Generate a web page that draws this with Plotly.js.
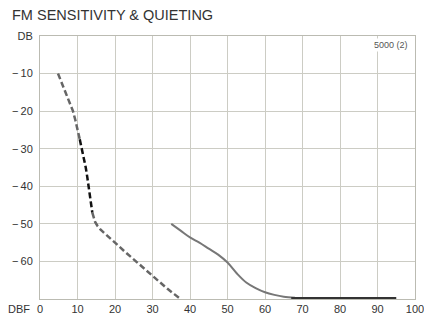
<!DOCTYPE html>
<html>
<head>
<meta charset="utf-8">
<script src="https://cdn.plot.ly/plotly-3.0.1.min.js"></script>
<style>html,body{margin:0;padding:0;background:#fff;}#chart{width:424px;height:314px;}</style>
</head>
<body>
<div id="chart"></div>
<script>
// Sensitivity (dashed) curve, split by tone
const sensUpperX = [4.8, 5.8, 6.8, 7.8, 8.8, 9.45, 10.0, 10.6];
const sensUpperY = [-10, -12.5, -15, -17.5, -20, -22.5, -25, -27.5];
const sensMidX = [10.6, 11.2, 11.7, 12.2, 12.6, 13.0, 13.3, 13.6, 13.95];
const sensMidY = [-27.5, -30, -32.5, -35, -37.5, -40, -42.5, -45, -47];
const sensLowerX = [13.95, 14.3, 14.7, 15.3, 16.1, 17.2, 18.4, 20, 22.5, 25, 27.5, 30, 32, 34, 35.8, 37.5];
const sensLowerY = [-47, -48.5, -49.5, -50.5, -51.5, -52.5, -53.5, -55, -57.3, -59.5, -61.8, -64, -65.7, -67.3, -68.7, -70];
// Quieting (solid) curve
const quietX = [35, 37.5, 40, 42.5, 45, 47.5, 50, 52.5, 55, 57.5, 60, 62.5, 65, 68];
const quietY = [-50, -51.8, -53.6, -55, -56.6, -58.2, -60.3, -63.2, -65.6, -67.1, -68.2, -68.9, -69.4, -69.7];
const floorX = [67, 80, 95];
const floorY = [-69.8, -69.8, -69.8];

const xTicks = [0, 10, 20, 30, 40, 50, 60, 70, 80, 90, 100];
const xTickText = ['0', '10', '20', '30', '40', '50', '60', '70', '80', '90', '100'];
const yTicks = [0, -10, -20, -30, -40, -50, -60];
const yTickText = ['DB', '\u2212\u200910', '\u2212\u200920', '\u2212\u200930', '\u2212\u200940', '\u2212\u200950', '\u2212\u200960'];

const font = {family: 'Liberation Sans, Arial, sans-serif', color: '#333'};

const traces = [
  {x: sensUpperX, y: sensUpperY, mode: 'lines', line: {color: '#666', width: 2.5, dash: '6px,3px'}},
  {x: sensMidX, y: sensMidY, mode: 'lines', line: {color: '#111', width: 2.5, dash: '6px,3px'}},
  {x: sensLowerX, y: sensLowerY, mode: 'lines', line: {color: '#666', width: 2.5, dash: '6px,3px'}},
  {x: quietX, y: quietY, mode: 'lines', line: {color: '#777', width: 2, shape: 'spline'}},
  {x: floorX, y: floorY, mode: 'lines', line: {color: '#333', width: 2.5}}
];

const layout = {
  width: 424, height: 314,
  margin: {l: 40, r: 9, t: 36, b: 15},
  paper_bgcolor: '#fff', plot_bgcolor: '#fff',
  showlegend: false,
  font: font,
  title: {text: 'FM SENSITIVITY & QUIETING', x: 12/424, xanchor: 'left', y: 1 - 15/314, yanchor: 'middle',
          font: {family: font.family, color: '#333', size: 14.5}},
  xaxis: {range: [0, 100], tickvals: xTicks, ticktext: xTickText, showgrid: true, gridcolor: '#ccccc4', gridwidth: 1,
          zeroline: false, showline: true, linecolor: '#bbbbb2', mirror: true, ticks: '', ticklabelstandoff: 0,
          ticklabeloverflow: 'allow', tickfont: {size: 11, color: '#333'}, fixedrange: true},
  yaxis: {range: [-70, 0], tickvals: yTicks, ticktext: yTickText, showgrid: true, gridcolor: '#ccccc4', gridwidth: 1,
          zeroline: false, showline: true, linecolor: '#bbbbb2', mirror: true, ticks: '', ticklabelstandoff: 4,
          tickfont: {size: 11, color: '#333'}, fixedrange: true},
  annotations: [
    {text: 'DBF', xref: 'paper', yref: 'paper', x: -0.022, y: 0, xanchor: 'right', yanchor: 'top', yshift: -2,
     showarrow: false, font: {size: 11, color: '#333'}},
    {text: '5000 (2)', xref: 'x', yref: 'y', x: 93.5, y: -2.5, xanchor: 'center', yanchor: 'middle',
     showarrow: false, bgcolor: '#fff', font: {size: 9, color: '#555'}}
  ]
};

Plotly.newPlot('chart', traces, layout, {staticPlot: true, displayModeBar: false});
</script>
</body>
</html>
